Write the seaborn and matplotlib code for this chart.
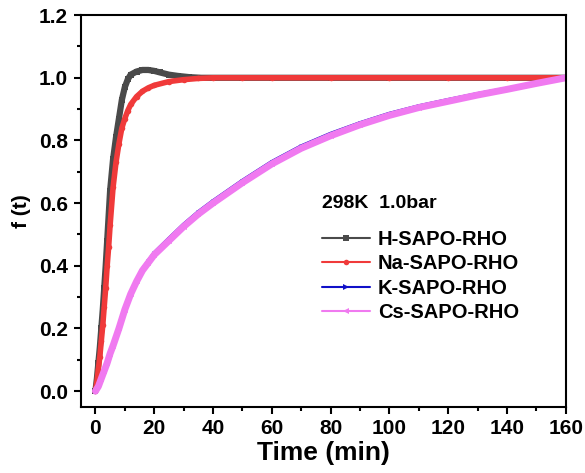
import matplotlib
matplotlib.use("Agg")
import matplotlib.pyplot as plt
from matplotlib.lines import Line2D
from matplotlib.ticker import MultipleLocator
import seaborn as sns
import pandas as pd

sns.set_style("ticks")
plt.rcParams['font.family'] = ['Liberation Sans', 'DejaVu Sans']
plt.rcParams['font.weight'] = 'bold'
plt.rcParams['text.color'] = 'black'
plt.rcParams['axes.labelcolor'] = 'black'
plt.rcParams['xtick.color'] = 'black'
plt.rcParams['ytick.color'] = 'black'

# ---- data ----
t_h = [0, 0.5, 1, 1.5, 2, 2.5, 3, 3.5, 4, 4.5, 5, 6, 7, 8, 9, 10, 11, 12, 14, 16, 18, 20,
       22, 25, 28, 32, 36, 40, 50, 60, 80, 100, 120, 140, 160]
f_h = [0, 0.04, 0.09, 0.14, 0.20, 0.26, 0.33, 0.40, 0.48, 0.56, 0.64, 0.74, 0.81, 0.87, 0.93,
       0.97, 0.995, 1.01, 1.02, 1.025, 1.025, 1.022, 1.017, 1.01, 1.006, 1.002, 1.0, 1.0, 1.0,
       1.0, 1.0, 1.0, 1.0, 1.0, 1.0]

t_na = [0, 0.5, 1, 1.5, 2, 2.5, 3, 3.5, 4, 4.5, 5, 6, 7, 8, 9, 10, 11, 12, 14, 16, 18, 20,
        25, 30, 35, 40, 50, 60, 80, 100, 120, 140, 160]
f_na = [0, 0.03, 0.07, 0.11, 0.16, 0.21, 0.27, 0.33, 0.40, 0.46, 0.53, 0.65, 0.73, 0.79, 0.84,
        0.87, 0.895, 0.915, 0.94, 0.957, 0.968, 0.976, 0.988, 0.994, 0.998, 1.0, 1.0, 1.0,
        1.0, 1.0, 1.0, 1.0, 1.0]

t_k = [0, 1, 2, 3, 4, 5, 6, 8, 10, 12, 14, 16, 18, 20, 25, 30, 35, 40, 50, 60, 70, 80, 90,
       100, 110, 120, 130, 140, 150, 160]
f_k = [0, 0.015, 0.04, 0.065, 0.09, 0.12, 0.145, 0.20, 0.26, 0.31, 0.352, 0.388, 0.414,
       0.44, 0.486, 0.531, 0.571, 0.606, 0.671, 0.731, 0.781, 0.821, 0.855, 0.885, 0.909,
       0.929, 0.948, 0.965, 0.983, 1.0]

t_cs = [0, 1, 2, 3, 4, 5, 6, 8, 10, 12, 14, 16, 18, 20, 25, 30, 35, 40, 50, 60, 70, 80, 90,
        100, 110, 120, 130, 140, 150, 160]
f_cs = [0, 0.015, 0.04, 0.065, 0.09, 0.12, 0.145, 0.20, 0.26, 0.31, 0.35, 0.385, 0.41,
        0.435, 0.48, 0.525, 0.565, 0.60, 0.665, 0.725, 0.775, 0.815, 0.85, 0.88, 0.905,
        0.925, 0.945, 0.963, 0.982, 1.0]

labels = ["H-SAPO-RHO", "Na-SAPO-RHO", "K-SAPO-RHO", "Cs-SAPO-RHO"]
colors = ["#4a4a4a", "#f03a3a", "#1010c8", "#f07af0"]
markers = ["s", "o", ">", "<"]
annotation = "298K  1.0bar"

series = [(t_h, f_h), (t_na, f_na), (t_k, f_k), (t_cs, f_cs)]
widths = [4.5, 4.0, 3.0, 5.0]
msizes = [4, 4, 3, 4]

fig = plt.figure(figsize=(5.85, 4.73), dpi=100)
ax = fig.add_axes([0.138, 0.140, 0.829, 0.828])

for (tt, ff), lab, c, m, w, ms in zip(series, labels, colors, markers, widths, msizes):
    df = pd.DataFrame({"t": tt, "f": ff})
    sns.lineplot(data=df, x="t", y="f", ax=ax, color=c, lw=w, marker=m, markersize=ms,
                 markeredgewidth=0, legend=False)

ax.set_xlim(-5, 160)
ax.set_ylim(-0.05, 1.2)
ax.xaxis.set_major_locator(MultipleLocator(20))
ax.xaxis.set_minor_locator(MultipleLocator(10))
ax.yaxis.set_major_locator(MultipleLocator(0.2))
ax.yaxis.set_minor_locator(MultipleLocator(0.1))
ax.yaxis.set_major_formatter(matplotlib.ticker.FormatStrFormatter('%.1f'))
ax.tick_params(which='major', direction='out', length=5, width=1.5, labelsize=15, pad=4,
               color='black', labelcolor='black')
ax.tick_params(which='minor', direction='out', length=3, width=1.5, color='black')
for lab in ax.get_xticklabels() + ax.get_yticklabels():
    lab.set_fontweight('bold')
for sp in ax.spines.values():
    sp.set_visible(True)
    sp.set_linewidth(1.5)
    sp.set_color('black')

ax.set_xlabel("Time (min)", fontsize=19, fontweight='bold', labelpad=2, color='black')
ax.set_ylabel("f (t)", fontsize=15, fontweight='bold', labelpad=6, color='black')

ax.text(0.497, 0.520, annotation, transform=ax.transAxes, fontsize=14, fontweight='bold',
        ha='left', va='center', color='black')

handles = [Line2D([0], [0], color=c, lw=1.5, marker=m, markersize=4, markeredgewidth=0)
           for c, m in zip(colors, markers)]
leg = ax.legend(handles, labels, loc='upper left', bbox_to_anchor=(0.48, 0.472), frameon=False,
                prop={'weight': 'bold', 'size': 14.5}, handlelength=2.4, handletextpad=0.4,
                labelspacing=0.27, borderaxespad=0, labelcolor='black')

fig.savefig("out.png", dpi=100, facecolor='white')
